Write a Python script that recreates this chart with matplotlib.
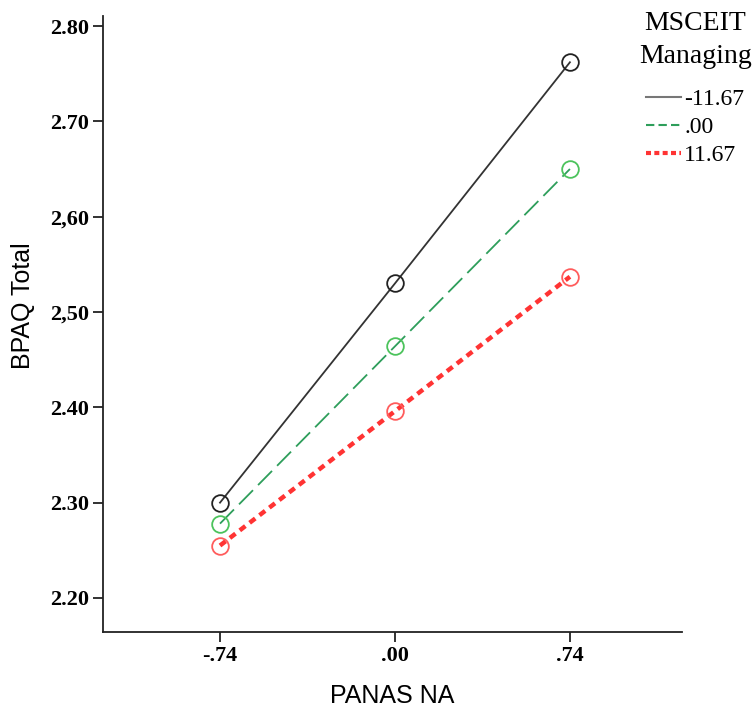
import numpy as np
from matplotlib import pyplot as plt
from matplotlib.lines import Line2D

# PANAS NA at -1 SD, mean, +1 SD
panas_na = [-0.74, 0.00, 0.74]
x_labels = ["-.74", ".00", ".74"]

# BPAQ Total for each MSCEIT Managing level
bpaq_low = [2.300, 2.530, 2.762]
bpaq_mid = [2.278, 2.464, 2.650]
bpaq_high = [2.255, 2.396, 2.537]
group_names = ["-11.67", ".00", "11.67"]

y_ticks = [2.20, 2.30, 2.40, 2.50, 2.60, 2.70, 2.80]
y_labels = ["2.20", "2.30", "2.40", "2,50", "2,60", "2.70", "2.80"]

fig = plt.figure(figsize=(7.55, 7.09), dpi=100)
ax = fig.add_axes([0.1364, 0.1086, 0.7669, 0.8688])

# lines
ax.plot(panas_na, bpaq_low, color="#333333", lw=1.3, ls="-")
ax.plot(panas_na, bpaq_mid, color="#2e9e5b", lw=1.3, ls=(0, (11, 4)))
ax.plot(panas_na, bpaq_high, color="#ff3333", lw=3.2, ls=(0, (1.6, 1.2)))

# open circle markers
ax.plot(panas_na, bpaq_low, ls="none", marker="o", ms=12, mfc="none", mec="#222222", mew=1.3)
ax.plot(panas_na, bpaq_mid, ls="none", marker="o", ms=12, mfc="none", mec="#4cc35c", mew=1.3)
ax.plot(panas_na, bpaq_high, ls="none", marker="o", ms=12, mfc="none", mec="#ff5c5c", mew=1.3)

ax.set_xlim(-1.235, 1.214)
ax.set_ylim(2.1643, 2.8105)
ax.set_xticks(panas_na)
ax.set_xticklabels(x_labels)
ax.set_yticks(y_ticks)
ax.set_yticklabels(y_labels)

for s in ["top", "right"]:
    ax.spines[s].set_visible(False)
for s in ["left", "bottom"]:
    ax.spines[s].set_linewidth(1.3)
    ax.spines[s].set_color("#222222")

ax.tick_params(length=7, width=1.3, color="#222222", pad=3)
for lab in ax.get_xticklabels() + ax.get_yticklabels():
    lab.set_fontfamily("Liberation Serif")
    lab.set_fontweight("bold")
    lab.set_fontsize(16)

ax.set_xlabel("PANAS NA", fontfamily="Liberation Sans", fontsize=18, labelpad=13)
ax.set_ylabel("BPAQ Total", fontfamily="Liberation Sans", fontsize=18)
ax.yaxis.set_label_coords(-0.118, 0.53)

# legend
handles = [
    Line2D([], [], color="#777777", lw=1.5, ls="-"),
    Line2D([], [], color="#2e9e5b", lw=1.5, ls=(0, (4, 2))),
    Line2D([], [], color="#ff3333", lw=3, ls=(0, (1.2, 0.8))),
]
leg = ax.legend(handles, group_names, title="MSCEIT\nManaging",
                loc="upper right", bbox_to_anchor=(1.0, 0.99),
                bbox_transform=fig.transFigure,
                frameon=False, handlelength=1.5, handletextpad=0.12,
                labelspacing=0.28, borderaxespad=0, borderpad=0.15,
                prop={"family": "Liberation Serif", "size": 17},
                title_fontproperties={"family": "Liberation Serif", "size": 20})
leg.get_title().set_linespacing(1.45)
leg.get_title().set_multialignment("center")
leg._legend_box.sep = 14

fig.savefig("out.png", dpi=100)
